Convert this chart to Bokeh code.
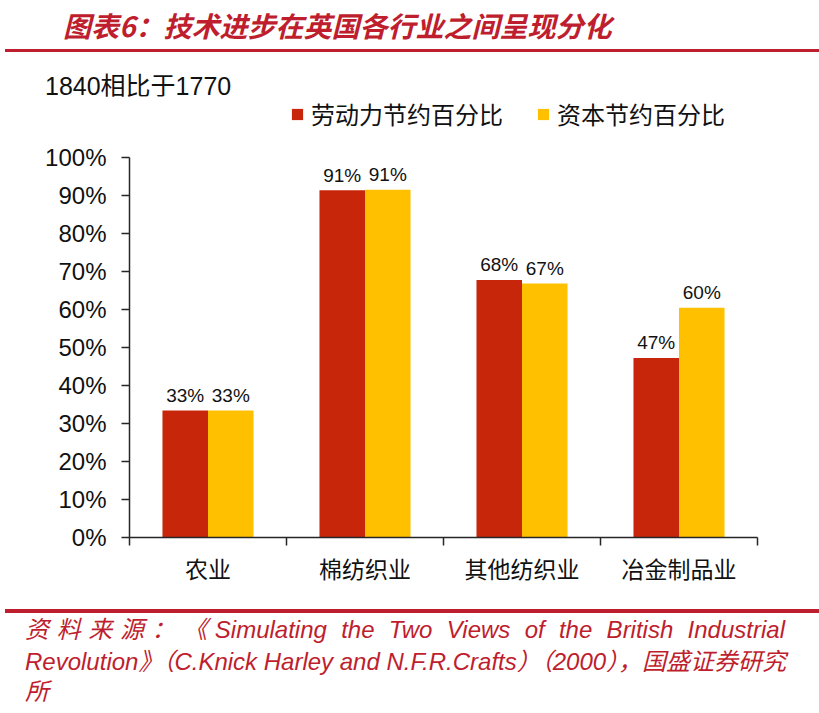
from bokeh.plotting import figure
from bokeh.layouts import column
from bokeh.models import (Range1d, FixedTicker, ColumnDataSource, Div,
                          CustomJSTickFormatter)
from bokeh.transform import dodge
from bokeh.core.properties import value
from bokeh.embed import file_html
from bokeh.resources import INLINE

# ---------------- data ----------------
categories = ["农业", "棉纺织业", "其他纺织业", "冶金制品业"]
series_names = ["劳动力节约百分比", "资本节约百分比"]
labor_saving = [33.4, 91.3, 67.7, 47.2]
capital_saving = [33.4, 91.4, 66.8, 60.4]
y_ticks = [0, 10, 20, 30, 40, 50, 60, 70, 80, 90, 100]

title_text = "图表6：技术进步在英国各行业之间呈现分化"
subtitle_text = "1840相比于1770"
source_line1 = "资料来源：《Simulating the Two Views of the British Industrial"
source_line2 = "Revolution》（C.Knick Harley and N.F.R.Crafts）（2000），国盛证券研究"
source_line3 = "所"

# ---------------- style / layout ----------------
RED = "#C8260A"
YELLOW = "#FFC000"
BRAND = "#BE1E2D"
AXIS = "#262626"
TXT = "#111111"
CJK = "Noto Sans CJK SC"
W = 819
H_HEAD, H_CHART, H_FOOT = 96, 504, 113
BAR_W = 0.29

# ---------------- header ----------------
head_html = f"""
<div style="position:relative;width:{W}px;height:{H_HEAD}px;">
  <div style="position:absolute;left:63px;top:8px;white-space:nowrap;
       font-family:'Noto Sans CJK SC';font-weight:bold;font-style:italic;
       font-size:28px;line-height:34px;color:{BRAND};">{title_text}</div>
  <div style="position:absolute;left:5px;width:{W - 5}px;top:48.5px;height:3.5px;
       background:{BRAND};"></div>
  <div style="position:absolute;left:45px;top:73.5px;white-space:nowrap;
       font-family:'Liberation Sans','Noto Sans CJK SC';font-size:25px;
       line-height:24px;color:{TXT};">{subtitle_text}</div>
</div>"""
head = Div(text=head_html, width=W, height=H_HEAD, margin=0)

# ---------------- chart ----------------
frame_bottom_border = 63
frame_h = H_CHART - frame_bottom_border
px_per_unit = 3.804
p = figure(width=W, height=H_CHART, output_backend="svg", toolbar_location=None,
           x_range=Range1d(0, len(categories)),
           y_range=Range1d(0, frame_h / px_per_unit),
           min_border_left=129, min_border_right=62, min_border_top=0,
           min_border_bottom=frame_bottom_border, margin=0)
p.outline_line_color = None
p.xgrid.visible = False
p.ygrid.visible = False

xs = [i + 0.5 for i in range(len(categories))]
src = ColumnDataSource(dict(
    x=xs,
    labor=labor_saving,
    capital=capital_saving,
    labor_lbl=[f"{v:.0f}%" for v in labor_saving],
    capital_lbl=[f"{v:.0f}%" for v in capital_saving],
))

p.vbar(x=dodge("x", -BAR_W / 2, range=p.x_range), top="labor", width=BAR_W,
       source=src, fill_color=RED, line_color=None, legend_label=series_names[0])
p.vbar(x=dodge("x", BAR_W / 2, range=p.x_range), top="capital", width=BAR_W,
       source=src, fill_color=YELLOW, line_color=None, legend_label=series_names[1])

for col, lbl, off in (("labor", "labor_lbl", -BAR_W / 2), ("capital", "capital_lbl", BAR_W / 2)):
    p.text(x=dodge("x", off, range=p.x_range), y=col, text=lbl, source=src,
           y_offset=-15, text_align="center", text_baseline="alphabetic",
           text_font=value("Liberation Sans"), text_font_size="19px", text_color=TXT)

xa = p.xaxis[0]
xa.ticker = FixedTicker(ticks=xs, minor_ticks=list(range(len(categories) + 1)))
xa.formatter = CustomJSTickFormatter(args=dict(cats=categories),
                                     code="return cats[Math.floor(tick)];")
xa.major_tick_out = 0
xa.major_tick_in = 0
xa.minor_tick_out = 8
xa.minor_tick_in = 0
xa.minor_tick_line_color = AXIS
xa.minor_tick_line_width = 1.5
xa.axis_line_color = AXIS
xa.axis_line_width = 1.5
xa.major_label_standoff = 5
xa.major_label_text_font = CJK
xa.major_label_text_font_size = "23px"
xa.major_label_text_color = TXT

ya = p.yaxis[0]
ya.bounds = (y_ticks[0], y_ticks[-1])
ya.ticker = FixedTicker(ticks=y_ticks, minor_ticks=[])
ya.formatter = CustomJSTickFormatter(code="return tick + '%';")
ya.major_tick_out = 8
ya.major_tick_in = 0
ya.major_tick_line_color = AXIS
ya.major_tick_line_width = 1.5
ya.minor_tick_line_color = None
ya.axis_line_color = AXIS
ya.axis_line_width = 1.5
ya.major_label_standoff = 15
ya.major_label_text_font = "Liberation Sans"
ya.major_label_text_font_size = "24px"
ya.major_label_text_color = TXT

leg = p.legend[0]
leg.location = (161, 406)
leg.orientation = "horizontal"
leg.glyph_width = 14
leg.glyph_height = 14
leg.label_standoff = 7
leg.spacing = 33
leg.padding = 0
leg.margin = 0
leg.border_line_color = None
leg.background_fill_alpha = 0
leg.label_text_font = CJK
leg.label_text_font_size = "24px"
leg.label_text_color = TXT

# ---------------- footer ----------------
foot_font = ("font-family:'Liberation Sans','Noto Sans CJK SC';font-style:italic;"
             f"color:{BRAND};white-space:nowrap;")
foot_html = f"""
<div style="position:relative;width:{W}px;height:{H_FOOT}px;overflow:hidden;">
  <div style="position:absolute;left:5px;width:{W - 5}px;top:9px;height:3.5px;
       background:{BRAND};"></div>
  <div style="position:absolute;left:25px;width:760px;top:15px;{foot_font}
       font-size:24px;line-height:30px;text-align:justify;text-align-last:justify;">{source_line1}</div>
  <div style="position:absolute;left:25px;top:46px;{foot_font}
       font-size:24px;line-height:31px;">{source_line2}</div>
  <div style="position:absolute;left:25px;top:76px;{foot_font}
       font-size:24px;line-height:31px;">{source_line3}</div>
</div>"""
foot = Div(text=foot_html, width=W, height=H_FOOT, margin=0)

layout = column(head, p, foot, spacing=0)
open("out.html", "w").write(file_html(layout, INLINE))
